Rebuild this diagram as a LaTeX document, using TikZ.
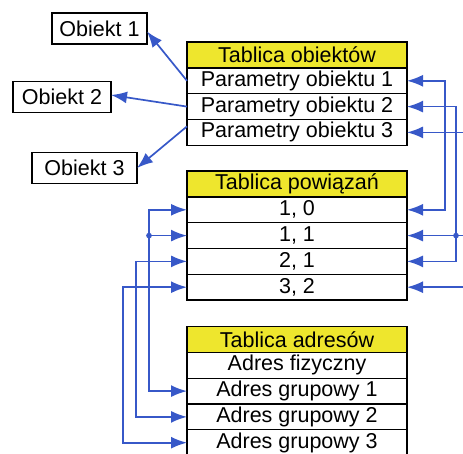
\documentclass[tikz,border=0pt]{standalone}
\usepackage{fontspec}
\setmainfont{Liberation Sans}
\usetikzlibrary{positioning,arrows.meta}

\begin{document}
\begin{tikzpicture}[x=1pt, y=-1pt]
    % ==========================
    % ustawienia
    % ==========================
    \def\szer{220pt} % szerokość tablicy
    \def\wys{25.8pt} % wysokość wiersza
    \definecolor{zolty}{RGB}{238,230,45}
    \definecolor{niebieski}{RGB}{55,88,200}
    \tikzset{
        wiersz/.style={draw, line width=1.3pt, fill=white, minimum width=\szer,
            minimum height=\wys, inner sep=0pt, outer sep=0pt,
            font=\fontsize{21.5}{23}\selectfont}, % wiersz tablicy
        naglowek/.style={wiersz, fill=zolty}, % nagłówek tablicy
        obiekt/.style={draw, line width=1.4pt, fill=white, minimum height=31pt,
            inner sep=0pt, outer sep=0pt, font=\fontsize{21.5}{23}\selectfont},
        pol/.style={draw=niebieski, line width=1.7pt,
            -{Latex[length=16pt, width=12pt]}}, % strzałka
        polaczenie/.style={pol, {Latex[length=16pt, width=12pt]}-{Latex[length=16pt, width=12pt]}},
        wezel/.style={circle, fill=niebieski, inner sep=2pt} % węzeł
    }
    \useasboundingbox (0,0) rectangle (463,454);
    \clip (0,0) rectangle (463,454);

    % ==========================
    % 1. Tablica obiektów
    % ==========================
    \node[naglowek] (tob) at (297,55) {Tablica obiektów};
    \node[wiersz, below=0pt of tob] (p1) {Parametry obiektu 1};
    \node[wiersz, below=0pt of p1] (p2) {Parametry obiektu 2};
    \node[wiersz, below=0pt of p2] (p3) {Parametry obiektu 3};

    % obiekty
    \node[obiekt, minimum width=95pt] (o1) at (99.5,28.5) {Obiekt 1};
    \node[obiekt, minimum width=98pt] (o2) at (62,97) {Obiekt 2};
    \node[obiekt, minimum width=105pt] (o3) at (84.5,168) {Obiekt 3};

    \draw[pol] (p1.west) -- ([yshift=-3pt]o1.east);
    \draw[pol] (p2.west) -- ([yshift=2pt]o2.east);
    \draw[pol] ([yshift=6pt]p3.west) -- (o3.east);

    % ==========================
    % 2. Tablica powiązań
    % ==========================
    \node[naglowek] (tpw) at (297,184) {Tablica powiązań};
    \node[wiersz, below=0pt of tpw] (w10) {1, 0};
    \node[wiersz, below=0pt of w10] (w11) {1, 1};
    \node[wiersz, below=0pt of w11] (w21) {2, 1};
    \node[wiersz, below=0pt of w21] (w32) {3, 2};

    % ==========================
    % 3. Tablica adresów
    % ==========================
    \node[naglowek] (tad) at (297,339.5) {Tablica adresów};
    \node[wiersz, below=0pt of tad] (af) {Adres fizyczny};
    \node[wiersz, below=0pt of af] (a1) {Adres grupowy 1};
    \node[wiersz, below=0pt of a1] (a2) {Adres grupowy 2};
    \node[wiersz, below=0pt of a2] (a3) {Adres grupowy 3};

    % połączenia po prawej (powiązania -> obiekty)
    \draw[polaczenie] (p1.east) -- ++(38,0) |- (w10.east);
    \draw[polaczenie] (p2.east) -- ++(49,0) coordinate (pr2) |- (w21.east);
    \draw[polaczenie] (p3.east) -- ++(70,0) |- (w32.east);
    \coordinate (jp) at (pr2 |- w11.east);
    \draw[pol] ([xshift=10pt]jp) -- (w11.east);
    \node[wezel] (kp) at (jp) {};

    % połączenia po lewej (powiązania -> adresy)
    \draw[polaczenie] (w10.west) -- ++(-38,0) coordinate (pl1) |- (a1.west);
    \draw[polaczenie] (w21.west) -- ++(-51,0) |- (a2.west);
    \draw[polaczenie] (w32.west) -- ++(-64,0) |- (a3.west);
    \coordinate (jl) at (pl1 |- w11.west);
    \draw[pol] (jl) -- (w11.west);
    \node[wezel] (kl) at (jl) {};

\end{tikzpicture}
\end{document}
